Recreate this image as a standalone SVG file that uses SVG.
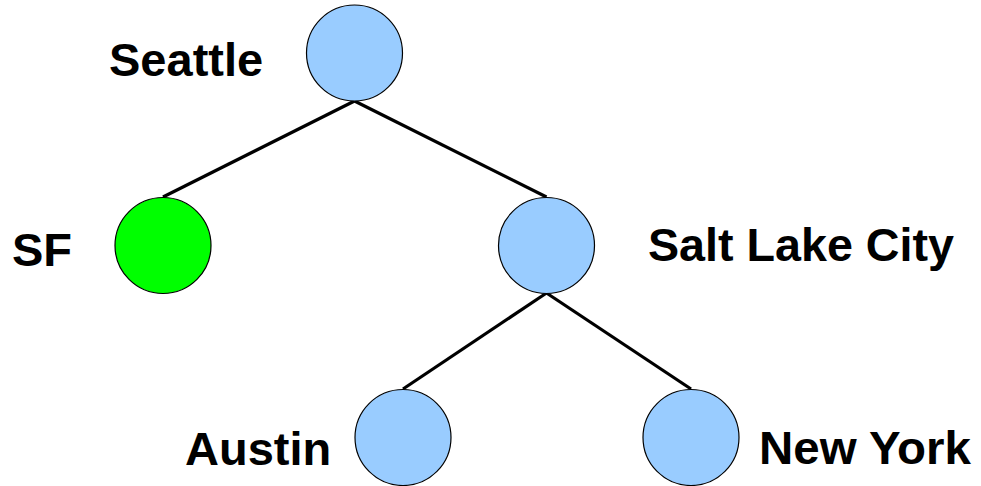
<svg xmlns="http://www.w3.org/2000/svg" width="981" height="486" viewBox="0 0 981 486">
  <style>
    .node { fill: #99ccff; stroke: #000; stroke-width: 1.2; }
    .leaf { fill: #00ff00; }
    .edge { stroke: #000; stroke-width: 3.2; fill: none; }
    .label { font-family: "Liberation Sans", Arial, sans-serif; font-weight: bold; font-size: 47px; fill: #000; }
  </style>
  <rect width="981" height="486" fill="#fff"/>
  <g id="connectors">
    <line class="edge" x1="354.5" y1="101" x2="163" y2="197"/>
    <line class="edge" x1="354.5" y1="101" x2="546.5" y2="197"/>
    <line class="edge" x1="546.5" y1="293" x2="403" y2="389"/>
    <line class="edge" x1="546.5" y1="293" x2="691" y2="389"/>
  </g>
  <g id="seattle">
    <circle class="node" cx="354.5" cy="53" r="48"/>
    <text class="label" x="109" y="75.5">Seattle</text>
  </g>
  <g id="sf">
    <circle class="node leaf" cx="163" cy="245.5" r="48"/>
    <text class="label" x="12" y="265.5">SF</text>
  </g>
  <g id="salt-lake-city">
    <circle class="node" cx="546.5" cy="245.5" r="48"/>
    <text class="label" x="648" y="260.5" textLength="306" lengthAdjust="spacingAndGlyphs">Salt Lake City</text>
  </g>
  <g id="austin">
    <circle class="node" cx="403" cy="437.5" r="48"/>
    <text class="label" x="185" y="465">Austin</text>
  </g>
  <g id="new-york">
    <circle class="node" cx="691" cy="437.5" r="48"/>
    <text class="label" x="759" y="464" textLength="212" lengthAdjust="spacingAndGlyphs">New York</text>
  </g>
</svg>
